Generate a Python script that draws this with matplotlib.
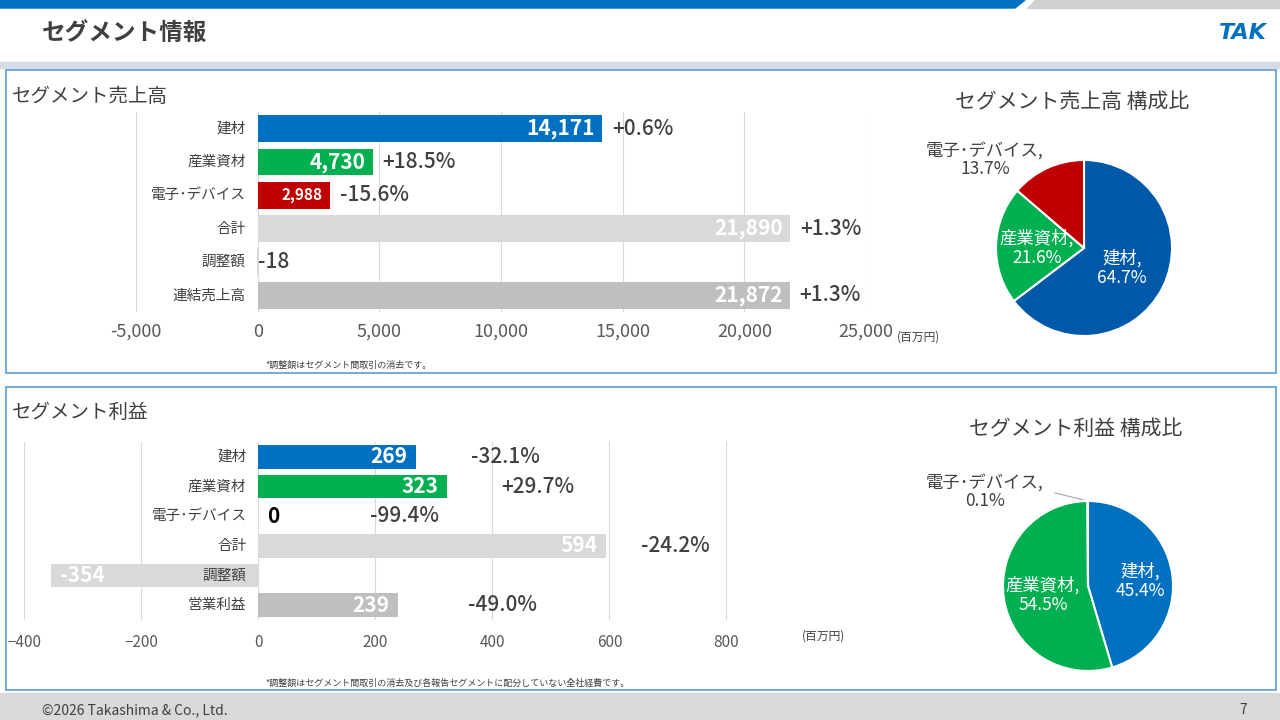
import matplotlib
matplotlib.use("Agg")
import matplotlib.pyplot as plt
from matplotlib.patches import Rectangle, Polygon

plt.rcParams['font.family'] = ['Noto Sans CJK JP', 'DejaVu Sans']

# --- data ---
sales_cats = ['建材', '産業資材', '電子･デバイス', '合計', '調整額', '連結売上高']
sales_vals = [14171, 4730, 2988, 21890, -18, 21872]
sales_pct = ['+0.6%', '+18.5%', '-15.6%', '+1.3%', '', '+1.3%']

profit_cats = ['建材', '産業資材', '電子･デバイス', '合計', '調整額', '営業利益']
profit_vals = [269, 323, 0, 594, -354, 239]
profit_pct = ['-32.1%', '+29.7%', '-99.4%', '-24.2%', '', '-49.0%']
profit_pct_x = [422, 477, 250, 712, 0, 418]

pie_labels = ['建材', '産業資材', '電子･デバイス']
sales_share = [64.7, 21.6, 13.7]
profit_share = [45.4, 54.5, 0.1]

BLUE, GREEN, RED = '#0070C0', '#00B050', '#C00000'
LGREY, GREY = '#D9D9D9', '#BFBFBF'
bar_colors = [BLUE, GREEN, RED, LGREY, LGREY, GREY]
TXT = '#404040'

W, H = 1280, 720
fig = plt.figure(figsize=(12.8, 7.2), dpi=100)


def px_axes(x0, y0, x1, y1):
    return fig.add_axes([x0 / W, 1 - y1 / H, (x1 - x0) / W, (y1 - y0) / H])


def ftext(x, y, s, **kw):
    kw.setdefault('zorder', 10)
    fig.text(x / W, 1 - y / H, s, **kw)


# --- frame / decorations ---
bg = fig.add_axes([0, 0, 1, 1])
bg.set_xlim(0, W)
bg.set_ylim(H, 0)
bg.axis('off')
bg.add_patch(Polygon([(0, 0), (1025, 0), (1015, 8), (0, 8)], color=BLUE))
bg.add_patch(Polygon([(1035, 0), (W, 0), (W, 8), (1027, 8)], color='#D0D0D0'))
bg.add_patch(Rectangle((0, 62), W, 6, color='#D6DCE4'))
bg.add_patch(Rectangle((6, 70), 1270, 303, fill=False, ec='#5B9BD5', lw=1.2))
bg.add_patch(Rectangle((6, 387), 1270, 303, fill=False, ec='#5B9BD5', lw=1.2))
bg.add_patch(Rectangle((0, 693), W, 27, color='#D9D9D9'))
ftext(42, 33, 'セグメント情報', fontsize=17, fontweight='bold', color=TXT, va='center')
ftext(1243, 33, 'TAK', fontsize=16, fontweight='bold', family='DejaVu Sans', style='italic',
      color=BLUE, va='center', ha='center')
ftext(42, 710, '©2026 Takashima & Co., Ltd.', fontsize=10, color=TXT, va='center')
ftext(1243, 710, '7', fontsize=10, color=TXT, va='center', ha='center')

ftext(12, 97, 'セグメント売上高', fontsize=14, color=TXT, va='center')
ftext(12, 412, 'セグメント利益', fontsize=14, color=TXT, va='center')
ftext(265, 365, '*調整額はセグメント間取引の消去です。', fontsize=6.5, color=TXT, va='center')
ftext(265, 683, '*調整額はセグメント間取引の消去及び各報告セグメントに配分していない全社経費です。',
      fontsize=6.5, color=TXT, va='center')


def bar_panel(ax, cats, vals):
    y = list(range(len(cats)))
    ax.barh(y, vals, color=bar_colors, height=0.8, zorder=2)
    ax.set_ylim(len(cats) - 0.5, -0.5)
    ax.set_yticks([])
    ax.patch.set_visible(False)
    for s in ax.spines.values():
        s.set_visible(False)
    ax.grid(axis='x', color='#D9D9D9', lw=0.8, zorder=0)
    ax.tick_params(axis='x', length=0, labelcolor='#595959', labelsize=13)
    return y


# --- sales bars ---
ax1 = px_axes(136, 112, 866, 312)
ax1.set_xlim(-5000, 25000)
bar_panel(ax1, sales_cats, sales_vals)
ax1.set_xticks(range(-5000, 25001, 5000))
ax1.set_xticklabels([f'{v:,}' for v in range(-5000, 25001, 5000)])
ax1.tick_params(axis='x', pad=8)
for i, (c, v, p) in enumerate(zip(sales_cats, sales_vals, sales_pct)):
    ax1.text(-500, i, c, ha='right', va='center', fontsize=10.5, color=TXT)
    if v > 0:
        fs = 11 if i == 2 else 15
        ax1.text(v - 300, i, f'{v:,}', ha='right', va='center', color='white',
                 fontsize=fs, fontweight='bold', zorder=3)
        ax1.text(v + 400, i, p, ha='left', va='center', fontsize=15, color=TXT, fontweight='medium')
    else:
        ax1.text(0, i, f'{v}', ha='left', va='center', fontsize=15, color=TXT, fontweight='medium')
ftext(897, 337, '(百万円)', fontsize=8.5, color=TXT, va='center')

# --- profit bars ---
ax2 = px_axes(24, 442, 785, 620)
ax2.set_xlim(-400, 900)
bar_panel(ax2, profit_cats, profit_vals)
ax2.set_xticks(range(-400, 801, 200))
ax2.tick_params(axis='x', labelsize=11, pad=10)
for i, (c, v, p, px) in enumerate(zip(profit_cats, profit_vals, profit_pct, profit_pct_x)):
    ax2.text(-20, i, c, ha='right', va='center', fontsize=10.5, color=TXT, zorder=4)
    if v > 0:
        ax2.text(v - 15, i, f'{v}', ha='right', va='center', color='white',
                 fontsize=15, fontweight='bold', zorder=3)
    elif v == 0:
        ax2.text(15, i, '0', ha='left', va='center', fontsize=15, color='black', fontweight='bold')
    else:
        ax2.text(v + 15, i, f'{v}', ha='left', va='center', color='white',
                 fontsize=15, fontweight='bold', zorder=3)
    if p:
        ax2.text(px, i, p, ha='center', va='center', fontsize=15, color=TXT, fontweight='medium')
ftext(802, 636, '(百万円)', fontsize=8.5, color=TXT, va='center')


# --- pies ---
def pie_panel(cx, cy, r, shares, colors, title, ty, labpos, textcolors):
    ax = px_axes(cx - r, cy - r, cx + r, cy + r)
    ax.pie(shares, colors=colors, startangle=90, counterclock=False,
           wedgeprops=dict(ec='white', lw=1.5))
    ax.set_xlim(-1, 1)
    ax.set_ylim(-1, 1)
    ax.set_aspect('equal')
    ax.patch.set_visible(False)
    ftext(cx - 12, ty, title, fontsize=15, color=TXT, ha='center', va='center')
    for lab, s, (lx, ly), tc in zip(pie_labels, shares, labpos, textcolors):
        ftext(lx, ly, f'{lab},\n{s:.1f}%', fontsize=12.5, color=tc, ha='center', va='center',
              linespacing=1.05)
    return ax


pie_panel(1084, 248, 88, sales_share, ['#0058A8', GREEN, RED],
          'セグメント売上高 構成比', 102,
          [(1122, 268), (1037, 248), (985, 160)], ['white', 'white', TXT])
pie_panel(1088, 586, 85, profit_share, [BLUE, GREEN, RED],
          'セグメント利益 構成比', 429,
          [(1140, 581), (1043, 595), (985, 492)], ['white', 'white', TXT])
bg.plot([1055, 1088], [493, 501], color='#A6A6A6', lw=0.8)

fig.savefig('out.png', dpi=100)
